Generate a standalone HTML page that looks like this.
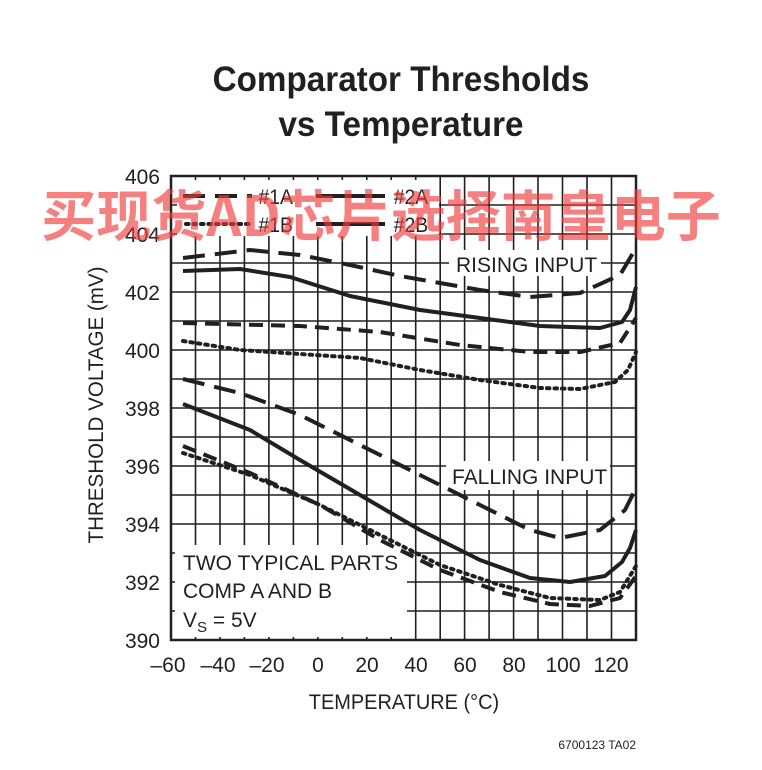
<!DOCTYPE html>
<html><head><meta charset="utf-8"><style>
body{margin:0;background:#fff;width:762px;height:770px;overflow:hidden}
svg{display:block}
text{font-family:"Liberation Sans",sans-serif;fill:#231f20}
</style></head><body>
<svg width="762" height="770" viewBox="0 0 762 770">
<text x="401" y="91" font-size="35" font-weight="bold" text-anchor="middle" transform="translate(401 0) scale(0.95 1) translate(-401 0)">Comparator Thresholds</text>
<text x="401" y="136" font-size="35" font-weight="bold" text-anchor="middle" transform="translate(401 0) scale(0.95 1) translate(-401 0)">vs Temperature</text>
<g stroke="#231f20" stroke-width="1.6">
<path d="M195.5 176V640M220 176V640M244.4 176V640M268.9 176V640M293.4 176V640M317.8 176V640M342.3 176V640M366.8 176V640M391.2 176V640M415.7 176V640M440.2 176V640M464.6 176V640M489.1 176V640M513.6 176V640M538 176V640M562.5 176V640M587 176V640M611.5 176V640"/>
<path d="M171 205H636M171 234H636M171 263H636M171 292H636M171 321H636M171 350H636M171 379H636M171 408H636M171 437H636M171 466H636M171 495H636M171 524H636M171 553H636M171 582H636M171 611H636"/>
</g>
<rect x="171" y="176" width="465" height="464" fill="none" stroke="#231f20" stroke-width="2.5"/>
<g fill="#fff">
<rect x="177" y="180" width="262" height="56"/>
<rect x="449" y="250" width="152" height="26"/>
<rect x="446" y="461" width="164" height="29"/>
<rect x="175" y="545" width="232" height="92"/>
</g>
<g fill="none" stroke="#231f20" stroke-width="4" stroke-linejoin="round" stroke-linecap="butt">
<path stroke-dasharray="22 10" d="M183 258 L250 250 L300 255 L350 265 L400 276 L480 290 L530 297 L580 293 L620 275 L636 248"/>
<path d="M183 271 L240 269 L290 277 L350 296 L420 310 L480 318 L540 326 L600 328 L622 322 L630 310 L636 287"/>
<path stroke-dasharray="14 8" d="M183 323 L300 326 L380 332 L460 345 L530 352 L580 352 L620 343 L636 318"/>
<path stroke-dasharray="2.5 5" stroke-linecap="round" d="M183 341 L240 350 L300 354 L360 358 L420 370 L480 380 L540 388 L580 389 L615 382 L628 370 L636 352"/>
<path stroke-dasharray="22 10" d="M183 379 L240 393 L300 415 L360 445 L420 475 L480 505 L530 530 L560 538 L600 530 L625 510 L636 488"/>
<path d="M183 404 L250 430 L300 460 L360 495 L420 530 L480 560 L530 578 L570 582 L605 576 L622 562 L630 548 L636 530"/>
<path stroke-dasharray="2.5 5" stroke-linecap="round" d="M183 453 L250 475 L320 505 L380 535 L440 565 L500 585 L550 598 L600 600 L620 592 L636 566"/>
<path stroke-dasharray="14 8" d="M183 446 L250 473 L320 505 L380 540 L440 570 L500 592 L550 604 L590 606 L620 598 L636 576"/>
<path stroke-dasharray="22 10" d="M183 196 H252"/>
<path stroke-dasharray="2.5 5" stroke-linecap="round" d="M186 224 H252"/>
<path d="M316 196 H385 M316 224 H385"/>
</g>
<g font-size="21" transform="scale(0.92 1)">
<text x="281" y="204">#1A</text>
<text x="281" y="232">#1B</text>
<text x="428" y="204">#2A</text>
<text x="428" y="232">#2B</text>
</g>
<g font-size="21">
<text x="456" y="272">RISING INPUT</text>
<text x="452" y="484">FALLING INPUT</text>
<text x="183" y="570">TWO TYPICAL PARTS</text>
<text x="183" y="598">COMP A AND B</text>
<text x="183" y="627">V<tspan font-size="15" dy="5">S</tspan><tspan dy="-5"> = 5V</tspan></text>
</g>
<g font-size="21" text-anchor="end">
<text x="160" y="184">406</text><text x="160" y="242">404</text><text x="160" y="300">402</text><text x="160" y="358">400</text><text x="160" y="416">398</text><text x="160" y="474">396</text><text x="160" y="532">394</text><text x="160" y="590">392</text><text x="160" y="648">390</text>
</g>
<g font-size="21" text-anchor="middle">
<text x="168" y="672">–60</text><text x="218" y="672">–40</text><text x="267" y="672">–20</text><text x="318" y="672">0</text><text x="367" y="672">20</text><text x="416" y="672">40</text><text x="465" y="672">60</text><text x="514" y="672">80</text><text x="563" y="672">100</text><text x="611" y="672">120</text>
</g>
<text x="404" y="709" font-size="21" text-anchor="middle" transform="translate(404 0) scale(0.95 1) translate(-404 0)">TEMPERATURE (°C)</text>
<text transform="translate(103 405) rotate(-90) scale(0.98 1)" font-size="21" text-anchor="middle">THRESHOLD VOLTAGE (mV)</text>
<text x="636" y="749" font-size="12" text-anchor="end">6700123 TA02</text>
<text x="381" y="236" font-size="55" font-weight="bold" text-anchor="middle" style="fill:rgba(240,60,60,0.65);font-family:'Noto Sans CJK SC',sans-serif">买现货AD芯片选择南皇电子</text>
</svg>
</body></html>
